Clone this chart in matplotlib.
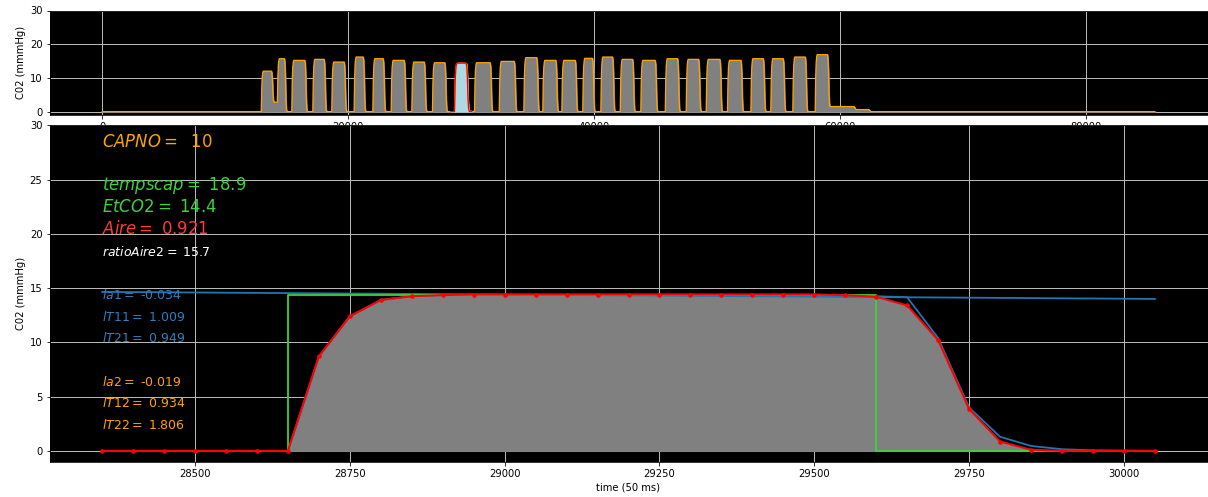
import numpy as np
import matplotlib
matplotlib.use("Agg")
import matplotlib.pyplot as plt

# ---------------------------------------------------------------- data
# whole recording: one capnogram breath per entry (time in 50 ms units)
breath_start = [12940, 14250, 15420, 17130, 18670, 20490, 22010, 23500, 25180, 26860,
                30280, 32290, 34290, 35830, 37380, 39080, 40550, 42130, 43800, 45790,
                47490, 49120, 50850, 52750, 54370, 56160, 57980]
breath_end = [13970, 15020, 16680, 18250, 19880, 21430, 23050, 24760, 26390, 28060,
              31750, 33710, 35540, 37090, 38670, 40070, 41700, 43330, 45170, 46990,
              48700, 50430, 52140, 53960, 55580, 57370, 59180]
breath_peak = [12.0, 15.7, 15.2, 15.5, 14.7, 16.2, 15.7, 15.2, 14.7, 14.5,
               14.5, 14.9, 16.0, 15.2, 15.2, 15.8, 16.2, 15.5, 15.2, 15.7,
               15.5, 15.5, 15.2, 15.7, 15.7, 16.2, 16.9]
# level the signal drops back to after each breath
breath_floor = [2.8] + [0.0] * 25 + [1.5]
# normalised up-stroke / down-stroke of a breath (40-unit steps)
rise_shape = [0.0, 0.6, 0.86, 0.96, 1.0]
fall_shape = [1.0, 0.93, 0.71, 0.27, 0.06, 0.0]
# residual CO2 after the last breath, then end of recording
tail_t = [61150, 61300, 62350, 62500, 85600]
tail_v = [1.5, 0.6, 0.6, 0.0, 0.0]

# selected breath, sampled every 50 units
t_win = np.arange(28350, 30051, 50)
co2_raw = [0, 0, 0, 0, 0, 0, 0, 8.7, 12.4, 13.9, 14.25, 14.35,
           14.4, 14.4, 14.4, 14.4, 14.4, 14.4, 14.4, 14.4, 14.4, 14.4, 14.4, 14.4, 14.35,
           14.25, 14.15, 10.4, 4.0, 1.3, 0.45, 0.15, 0.05, 0.02, 0.0]
co2_fit = [0, 0, 0, 0, 0, 0, 0, 8.7, 12.4, 13.9, 14.25, 14.35,
           14.4, 14.4, 14.4, 14.4, 14.4, 14.4, 14.4, 14.4, 14.4, 14.4, 14.4, 14.4, 14.35,
           14.2, 13.4, 10.2, 3.85, 0.86, 0.1, 0, 0, 0, 0]
# plateau regression line (end points)
reg_t = [28350, 30050]
reg_v = [14.65, 14.0]
# square-wave model of the breath
sq_t = [28650, 28650, 29600, 29600, 29850]
capno, tempscap, etco2, aire, ratio_aire2 = 10, 18.9, 14.4, 0.921, 15.7
la1, lt11, lt21 = -0.034, 1.009, 0.949
la2, lt12, lt22 = -0.019, 0.934, 1.806

# ---------------------------------------------------------------- full signal
sig_t, sig_v = [0.0], [0.0]
level = 0.0
win_start = 28650
inserted = False
for s, e, h, fl in zip(breath_start, breath_end, breath_peak, breath_floor):
    if s > win_start and not inserted:
        sel = (t_win >= 28650) & (t_win <= 29900)
        sig_t += list(t_win[sel]); sig_v += list(np.array(co2_raw)[sel])
        inserted = True
    for k, f in enumerate(rise_shape):
        sig_t.append(s + 40 * k); sig_v.append(level + (h - level) * f)
    n = len(fall_shape)
    for k, f in enumerate(fall_shape):
        sig_t.append(e - 40 * (n - 1 - k)); sig_v.append(fl + (h - fl) * f)
    level = fl
sig_t += tail_t; sig_v += tail_v

# ---------------------------------------------------------------- figure
W, H, DPI = 1208, 497, 72
fig = plt.figure(figsize=(W / DPI, H / DPI), dpi=DPI)
ax_top = fig.add_axes([49.5 / W, 1 - 115 / H, 1158 / W, 104.5 / H])
ax = fig.add_axes([49.5 / W, 1 - 461.7 / H, 1158 / W, 336.4 / H])

for a in (ax_top, ax):
    a.set_facecolor("black")
    a.grid(True, color="#b8b8b8", linewidth=1.0)
    a.set_axisbelow(True)
    a.set_ylabel("C02 (mmmHg)")

green = "#3fd23f"

# overview
ax_top.fill_between(sig_t, sig_v, color="gray")
ax_top.plot(sig_t, sig_v, color="orange", linewidth=1.3)
ax_top.fill_between(t_win, co2_fit, color="lightblue")
ax_top.plot(t_win, co2_fit, color="red", linewidth=1.3)
ax_top.set_ylim(-1, 30)
ax_top.set_yticks([0, 10, 20, 30])

# zoom on the selected breath
ax.fill_between(t_win, co2_fit, color="gray")
ax.plot(t_win, co2_raw, color="#1f77b4", linewidth=1.8)
ax.plot(reg_t, reg_v, color="#1f77b4", linewidth=1.8)
ax.plot(sq_t, [0, etco2, etco2, 0, 0], color=green, linewidth=1.8)
ax.plot(t_win, co2_fit, color="red", linewidth=2.0, marker="o", markersize=3.5)
ax.set_ylim(-1, 30)
ax.set_xlabel("time (50 ms)")

x0 = t_win[0]
big = 16.5
small = 12.5
ax.text(x0, 28, r"$CAPNO = $ %3d" % capno, color="orange", fontsize=big)
ax.text(x0, 24, r"$tempscap = $ %.1f" % tempscap, color=green, fontsize=big)
ax.text(x0, 22, r"$EtCO2 = $ %.1f" % etco2, color=green, fontsize=big)
ax.text(x0, 20, r"$Aire = $ %.3f" % aire, color="#ff3a3a", fontsize=big)
ax.text(x0, 18, r"$ratioAire2 = $ %.1f" % ratio_aire2, color="white", fontsize=small)
ax.text(x0, 14, r"$la1 = $ %.3f" % la1, color="#2f7fc0", fontsize=small)
ax.text(x0, 12, r"$lT11 = $ %.3f" % lt11, color="#2f7fc0", fontsize=small)
ax.text(x0, 10, r"$lT21 = $ %.3f" % lt21, color="#2f7fc0", fontsize=small)
ax.text(x0, 6, r"$la2 = $ %.3f" % la2, color="orange", fontsize=small)
ax.text(x0, 4, r"$lT12 = $ %.3f" % lt12, color="orange", fontsize=small)
ax.text(x0, 2, r"$lT22 = $ %.3f" % lt22, color="orange", fontsize=small)

fig.savefig("out.png", dpi=DPI)
